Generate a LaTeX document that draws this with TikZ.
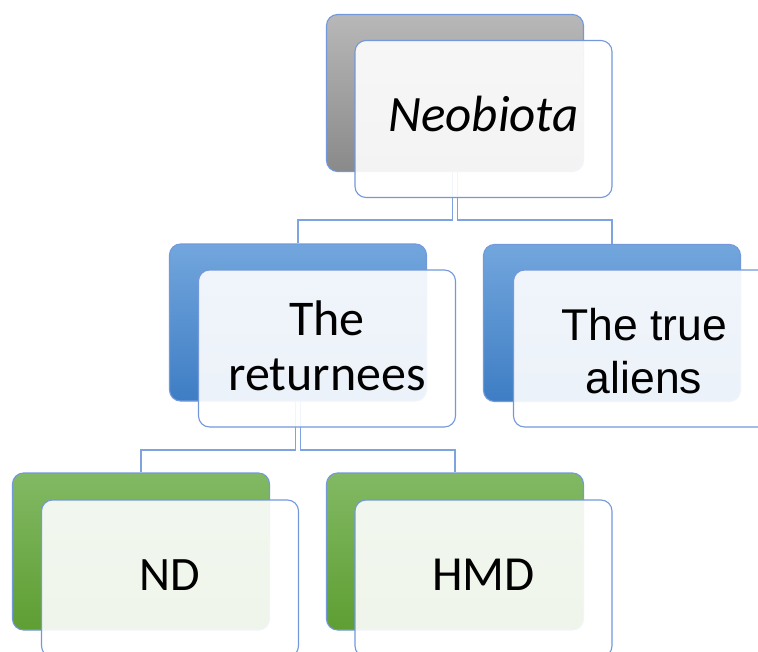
\documentclass[tikz,border=0pt]{standalone}
\usepackage{fontspec}
\setmainfont{Carlito}
\newfontfamily\arialfont{Liberation Sans}
\definecolor{edge}{HTML}{7399DB}
\definecolor{conncol}{HTML}{7FA3DE}
\tikzset{
  x=1bp, y=-1bp,
  boxbase/.style={rectangle, rounded corners=11bp, draw=edge, line width=1.1bp,
    minimum width=257bp, minimum height=157bp, inner sep=0pt},
  backgray/.style={boxbase, top color=black!28, bottom color=black!46},
  backblue/.style={boxbase, top color={rgb,255:red,114;green,166;blue,221}, bottom color={rgb,255:red,62;green,125;blue,196}},
  backgreen/.style={boxbase, top color={rgb,255:red,130;green,185;blue,100}, bottom color={rgb,255:red,94;green,158;blue,50}},
  frontbox/.style={boxbase, fill=white, fill opacity=0.9, text opacity=1, align=center,
    font=\fontsize{48bp}{55bp}\selectfont},
  labeltext/.style={align=center, inner sep=0pt},
  conn/.style={draw=conncol, line width=1.3bp},
}
\begin{document}
\begin{tikzpicture}
\useasboundingbox (0,0) rectangle (758,652);
\clip (0,0) rectangle (758,652);
% back boxes
\node[backgray]  (nb)  at (455,93)    {};
\node[backblue]  (rb)  at (298,322.5) {};
\node[backblue]  (ab)  at (612,323)   {};
\node[backgreen] (ndb) at (141,551.5) {};
\node[backgreen] (hb)  at (455,551.5) {};
% junction levels
\coordinate (j1) at (0,220);
\coordinate (j2) at (0,450);
% connectors
\draw[conn] ([xshift=-2.5bp]nb.south) -- ([xshift=-2.5bp]nb.south |- j1) -| (rb.north);
\draw[conn] ([xshift=2.5bp]nb.south) -- ([xshift=2.5bp]nb.south |- j1) -| (ab.north);
\draw[conn] ([xshift=-2.5bp]rb.south) -- ([xshift=-2.5bp]rb.south |- j2) -| (ndb.north);
\draw[conn] ([xshift=2.5bp]rb.south) -- ([xshift=2.5bp]rb.south |- j2) -| (hb.north);
% front boxes
\node[frontbox] (nf)  at (483.5,119)   {};
\node[frontbox] (rf)  at (327,348.5)   {};
\node[frontbox] (af)  at (642,348.5)   {};
\node[frontbox] (ndf) at (170,578.5)   {};
\node[frontbox] (hf)  at (483.5,578.5) {};
% labels
\node[labeltext, font=\fontsize{51bp}{58bp}\selectfont\itshape, anchor=base] (nt) at ([yshift=-13bp]nf.center) {Neobiota};
\node[labeltext, font=\fontsize{50bp}{55bp}\selectfont, anchor=base] (rt1) at ([yshift=13.5bp]rf.center) {The};
\node[labeltext, font=\fontsize{50bp}{55bp}\selectfont, anchor=base] (rt2) at ([yshift=-41.5bp]rf.center) {returnees};
\node[labeltext, font=\arialfont\fontsize{44.5bp}{53bp}\selectfont, anchor=base] (at1) at ([xshift=2bp,yshift=8.5bp]af.center) {The true};
\node[labeltext, font=\arialfont\fontsize{44.5bp}{53bp}\selectfont, anchor=base] (at2) at ([xshift=2bp,yshift=-44.5bp]af.center) {aliens};
\node[labeltext, font=\fontsize{48bp}{55bp}\selectfont, anchor=base] (ndt) at ([yshift=-11.5bp]ndf.center) {ND};
\node[labeltext, font=\fontsize{49bp}{55bp}\selectfont, anchor=base] (ht) at ([yshift=-11.5bp]hf.center) {HMD};
\end{tikzpicture}
\end{document}
